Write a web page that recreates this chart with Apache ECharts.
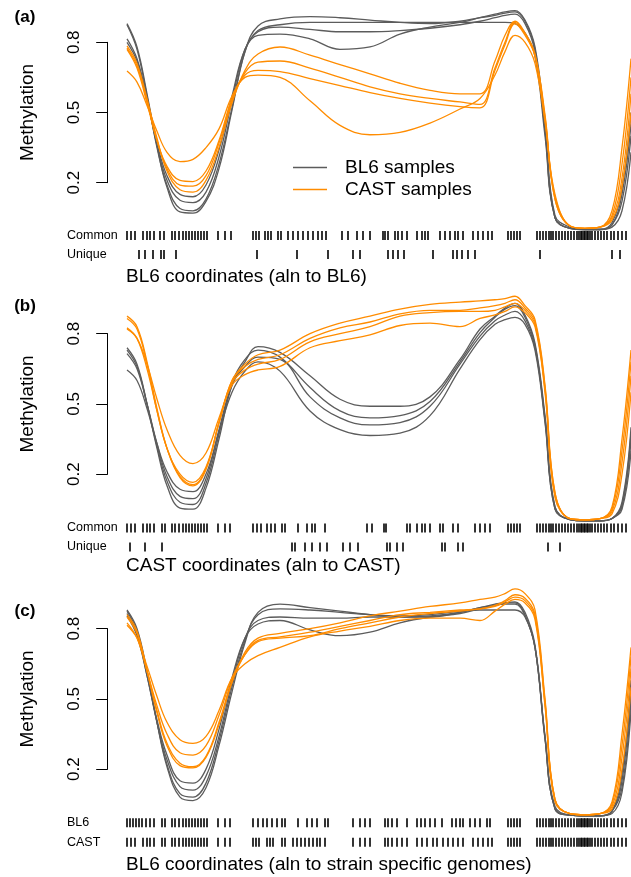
<!DOCTYPE html>
<html>
<head>
<meta charset="utf-8">
<title>Methylation profiles</title>
<script src="https://cdn.jsdelivr.net/npm/echarts@6/dist/echarts.min.js"></script>
<style>
  html, body { margin: 0; padding: 0; background: #fff; }
  #main { width: 631px; height: 877px; }
</style>
</head>
<body>
<div id="main"></div>
<script>
// Relative positions (scaled units) along the region where the smoothed
// methylation of every sample is evaluated.
const positions = [0, 20, 40, 60, 80, 106, 132, 158, 184, 210, 236, 262, 306, 366, 426, 486, 546, 606, 666, 706, 736, 756, 776, 796, 816, 836, 856, 886, 916, 946, 970, 990, 1008];

// (a) aligned to BL6
const bl6A = [
  [0.88, 0.78, 0.58, 0.36, 0.18, 0.075, 0.07, 0.12, 0.26, 0.51, 0.76, 0.87, 0.90, 0.91, 0.905, 0.895, 0.885, 0.88, 0.89, 0.905, 0.915, 0.925, 0.93, 0.89, 0.77, 0.42, 0.05, 0.005, 0.0, 0.0, 0.02, 0.15, 0.45],
  [0.875, 0.77, 0.57, 0.35, 0.19, 0.09, 0.08, 0.13, 0.28, 0.52, 0.76, 0.85, 0.875, 0.885, 0.885, 0.885, 0.885, 0.885, 0.885, 0.885, 0.885, 0.885, 0.88, 0.84, 0.74, 0.40, 0.05, 0.005, 0.0, 0.0, 0.02, 0.12, 0.40],
  [0.815, 0.73, 0.56, 0.36, 0.21, 0.125, 0.115, 0.16, 0.31, 0.55, 0.77, 0.845, 0.865, 0.855, 0.845, 0.845, 0.85, 0.86, 0.875, 0.89, 0.905, 0.915, 0.92, 0.88, 0.76, 0.43, 0.05, 0.005, 0.0, 0.0, 0.03, 0.18, 0.50],
  [0.80, 0.72, 0.56, 0.37, 0.23, 0.15, 0.14, 0.19, 0.34, 0.57, 0.77, 0.83, 0.835, 0.815, 0.77, 0.78, 0.835, 0.865, 0.885, 0.905, 0.92, 0.93, 0.935, 0.895, 0.78, 0.45, 0.06, 0.01, 0.0, 0.0, 0.01, 0.08, 0.33]
];
const castA = [
  [0.785, 0.71, 0.56, 0.39, 0.25, 0.17, 0.16, 0.21, 0.35, 0.54, 0.68, 0.75, 0.78, 0.745, 0.705, 0.665, 0.625, 0.595, 0.58, 0.58, 0.72, 0.83, 0.89, 0.84, 0.75, 0.49, 0.13, 0.015, 0.005, 0.01, 0.08, 0.35, 0.73],
  [0.775, 0.70, 0.55, 0.38, 0.26, 0.19, 0.185, 0.23, 0.37, 0.55, 0.67, 0.715, 0.72, 0.69, 0.65, 0.61, 0.58, 0.56, 0.545, 0.535, 0.69, 0.80, 0.885, 0.835, 0.745, 0.48, 0.13, 0.015, 0.005, 0.01, 0.06, 0.28, 0.65],
  [0.77, 0.69, 0.54, 0.38, 0.27, 0.21, 0.205, 0.25, 0.38, 0.56, 0.66, 0.68, 0.675, 0.645, 0.615, 0.585, 0.56, 0.54, 0.525, 0.52, 0.68, 0.79, 0.88, 0.83, 0.74, 0.47, 0.14, 0.015, 0.005, 0.01, 0.05, 0.22, 0.58],
  [0.677, 0.63, 0.53, 0.42, 0.33, 0.29, 0.30, 0.35, 0.43, 0.57, 0.65, 0.66, 0.65, 0.55, 0.445, 0.405, 0.415, 0.455, 0.515, 0.56, 0.66, 0.76, 0.83, 0.80, 0.71, 0.46, 0.15, 0.015, 0.005, 0.01, 0.04, 0.18, 0.50]
];

// (b) aligned to CAST
const bl6B = [
  [0.74, 0.67, 0.50, 0.31, 0.15, 0.055, 0.05, 0.14, 0.35, 0.58, 0.68, 0.745, 0.72, 0.62, 0.52, 0.49, 0.49, 0.53, 0.69, 0.82, 0.875, 0.91, 0.93, 0.88, 0.76, 0.45, 0.06, 0.005, 0.0, 0.0, 0.01, 0.08, 0.40],
  [0.73, 0.66, 0.50, 0.32, 0.17, 0.08, 0.07, 0.16, 0.37, 0.59, 0.69, 0.73, 0.70, 0.57, 0.47, 0.44, 0.45, 0.51, 0.68, 0.805, 0.87, 0.905, 0.92, 0.87, 0.75, 0.43, 0.05, 0.005, 0.0, 0.0, 0.01, 0.06, 0.35],
  [0.715, 0.65, 0.50, 0.33, 0.19, 0.105, 0.095, 0.18, 0.39, 0.58, 0.66, 0.70, 0.69, 0.53, 0.44, 0.41, 0.42, 0.49, 0.67, 0.79, 0.855, 0.88, 0.895, 0.855, 0.74, 0.44, 0.06, 0.005, 0.0, 0.0, 0.01, 0.07, 0.38],
  [0.645, 0.60, 0.48, 0.33, 0.21, 0.135, 0.125, 0.20, 0.38, 0.55, 0.64, 0.68, 0.64, 0.47, 0.39, 0.365, 0.375, 0.45, 0.65, 0.775, 0.84, 0.86, 0.87, 0.84, 0.73, 0.42, 0.05, 0.005, 0.0, 0.0, 0.01, 0.05, 0.30]
];
const castB = [
  [0.875, 0.83, 0.68, 0.48, 0.31, 0.185, 0.15, 0.22, 0.42, 0.60, 0.67, 0.71, 0.73, 0.80, 0.845, 0.875, 0.905, 0.925, 0.935, 0.94, 0.945, 0.95, 0.96, 0.92, 0.86, 0.58, 0.12, 0.01, 0.005, 0.01, 0.06, 0.35, 0.73],
  [0.865, 0.82, 0.67, 0.47, 0.31, 0.19, 0.155, 0.225, 0.42, 0.60, 0.66, 0.69, 0.71, 0.78, 0.825, 0.85, 0.885, 0.90, 0.90, 0.91, 0.92, 0.93, 0.945, 0.91, 0.85, 0.57, 0.12, 0.01, 0.005, 0.01, 0.05, 0.30, 0.68],
  [0.825, 0.78, 0.65, 0.47, 0.31, 0.20, 0.165, 0.23, 0.42, 0.59, 0.645, 0.67, 0.69, 0.765, 0.80, 0.83, 0.875, 0.89, 0.895, 0.895, 0.90, 0.915, 0.93, 0.90, 0.84, 0.56, 0.11, 0.01, 0.005, 0.01, 0.04, 0.25, 0.62],
  [0.82, 0.78, 0.67, 0.52, 0.39, 0.28, 0.245, 0.29, 0.44, 0.58, 0.625, 0.645, 0.66, 0.74, 0.77, 0.795, 0.835, 0.845, 0.83, 0.865, 0.88, 0.895, 0.915, 0.89, 0.83, 0.55, 0.10, 0.01, 0.005, 0.01, 0.03, 0.20, 0.55]
];

// (c) aligned to strain specific genomes
const bl6C = [
  [0.88, 0.80, 0.62, 0.40, 0.21, 0.08, 0.065, 0.12, 0.30, 0.53, 0.74, 0.87, 0.905, 0.89, 0.875, 0.86, 0.85, 0.85, 0.87, 0.89, 0.90, 0.91, 0.915, 0.87, 0.73, 0.34, 0.03, 0.003, 0.0, 0.0, 0.02, 0.15, 0.55],
  [0.875, 0.79, 0.61, 0.40, 0.22, 0.095, 0.08, 0.14, 0.32, 0.55, 0.75, 0.86, 0.885, 0.88, 0.87, 0.86, 0.855, 0.86, 0.875, 0.88, 0.88, 0.88, 0.88, 0.85, 0.72, 0.33, 0.03, 0.003, 0.0, 0.0, 0.02, 0.12, 0.50],
  [0.865, 0.78, 0.60, 0.40, 0.24, 0.125, 0.11, 0.17, 0.34, 0.57, 0.76, 0.835, 0.85, 0.845, 0.845, 0.85, 0.85, 0.855, 0.87, 0.89, 0.905, 0.91, 0.91, 0.86, 0.72, 0.33, 0.03, 0.003, 0.0, 0.0, 0.02, 0.18, 0.58],
  [0.855, 0.77, 0.60, 0.41, 0.26, 0.15, 0.14, 0.20, 0.37, 0.59, 0.76, 0.82, 0.835, 0.795, 0.77, 0.785, 0.825, 0.85, 0.865, 0.885, 0.90, 0.905, 0.905, 0.855, 0.72, 0.34, 0.04, 0.003, 0.0, 0.0, 0.01, 0.10, 0.45]
];
const castC = [
  [0.86, 0.79, 0.62, 0.44, 0.30, 0.215, 0.205, 0.25, 0.39, 0.57, 0.70, 0.76, 0.78, 0.80, 0.825, 0.855, 0.875, 0.895, 0.91, 0.925, 0.935, 0.95, 0.97, 0.95, 0.88, 0.50, 0.07, 0.01, 0.005, 0.01, 0.06, 0.35, 0.72],
  [0.85, 0.78, 0.62, 0.45, 0.31, 0.225, 0.21, 0.255, 0.40, 0.575, 0.69, 0.75, 0.765, 0.785, 0.81, 0.835, 0.86, 0.87, 0.88, 0.885, 0.90, 0.92, 0.945, 0.93, 0.86, 0.49, 0.07, 0.01, 0.005, 0.01, 0.05, 0.30, 0.68],
  [0.825, 0.76, 0.62, 0.47, 0.35, 0.27, 0.26, 0.30, 0.43, 0.59, 0.69, 0.745, 0.76, 0.77, 0.80, 0.825, 0.85, 0.865, 0.875, 0.885, 0.895, 0.915, 0.935, 0.92, 0.85, 0.48, 0.07, 0.01, 0.005, 0.01, 0.04, 0.25, 0.63],
  [0.815, 0.76, 0.64, 0.51, 0.40, 0.325, 0.31, 0.34, 0.45, 0.59, 0.65, 0.685, 0.72, 0.765, 0.79, 0.81, 0.835, 0.845, 0.845, 0.835, 0.875, 0.905, 0.925, 0.91, 0.84, 0.47, 0.06, 0.01, 0.005, 0.01, 0.03, 0.20, 0.55]
];

// CpG sites shared by every track: the island core and the promoter end
const coreSites = [112, 118, 124, 130, 136, 142, 148, 154, 160];
const firstExonSites = [762, 768, 774, 780, 786];
const promoterSites = [820, 826, 832, 838, 844, 848, 852, 858, 864, 870, 876, 882, 888, 894, 900, 904, 908, 910, 914, 916, 920, 922, 926, 930, 936, 942, 948, 954, 960, 968, 974, 982, 990, 998];

// CpG site tracks
const commonA = [0, 8, 16, 32, 40, 46, 54, 66, 74, 90, 96, 104, 182, 196, 208, 252, 258, 264, 276, 282, 288, 302, 308, 322, 332, 342, 352, 362, 372, 382, 390, 398, 430, 442, 460, 472, 486, 512, 516, 522, 536, 542, 550, 560, 580, 590, 596, 602, 626, 636, 646, 656, 662, 672, 692, 702, 712, 722, 730];
const uniqueA = [24, 36, 52, 68, 74, 98, 260, 340, 402, 452, 466, 522, 532, 542, 554, 612, 652, 660, 670, 682, 696, 826, 970, 986];
const commonB = [0, 8, 16, 32, 40, 46, 54, 70, 76, 90, 96, 104, 182, 196, 206, 252, 260, 268, 280, 288, 296, 310, 316, 342, 360, 370, 376, 396, 480, 490, 514, 518, 560, 566, 580, 590, 596, 606, 626, 632, 652, 662, 696, 706, 716, 726];
const uniqueB = [6, 36, 70, 330, 336, 356, 370, 386, 400, 432, 446, 462, 520, 526, 540, 552, 630, 636, 662, 672, 842, 866];
const bl6SitesC = [0, 6, 12, 18, 24, 30, 38, 46, 54, 70, 76, 90, 96, 104, 182, 196, 206, 252, 262, 272, 280, 290, 300, 310, 316, 342, 360, 370, 380, 396, 402, 452, 466, 476, 486, 516, 522, 530, 540, 560, 580, 588, 596, 606, 616, 630, 650, 658, 666, 672, 686, 696, 706, 720, 726];
const castSitesC = [0, 8, 16, 32, 40, 46, 54, 70, 76, 90, 96, 104, 182, 196, 206, 252, 258, 264, 280, 286, 292, 310, 316, 332, 340, 348, 356, 364, 372, 380, 386, 396, 452, 466, 476, 486, 516, 522, 530, 540, 550, 560, 580, 590, 600, 612, 620, 632, 642, 652, 662, 672, 692, 702, 712, 722, 730];

const FONT = '"Liberation Sans", Arial, Helvetica, sans-serif';
const GRAY = '#5c5c5c';
const ORANGE = '#ff8c00';
const X_MAX = 1008;

const withShared = sites => sites.concat(coreSites, firstExonSites, promoterSites);

const panels = [
  { tag: '(a)', plotTop: 42.3, rugTop: 226, rugH: 38, tagY: 17.5, titleY: 277,
    title: 'BL6 coordinates (aln to BL6)', bl6: bl6A, cast: castA,
    rows: ['Common', 'Unique'], rugs: [withShared(commonA), uniqueA] },
  { tag: '(b)', plotTop: 333.7, rugTop: 518.5, rugH: 38, tagY: 306, titleY: 566,
    title: 'CAST coordinates (aln to CAST)', bl6: bl6B, cast: castB,
    rows: ['Common', 'Unique'], rugs: [withShared(commonB), uniqueB] },
  { tag: '(c)', plotTop: 628.7, rugTop: 813, rugH: 39, tagY: 611, titleY: 865,
    title: 'BL6 coordinates (aln to strain specific genomes)', bl6: bl6C, cast: castC,
    rows: ['BL6', 'CAST'], rugs: [withShared(bl6SitesC), withShared(castSitesC)] }
];

const grid = [], xAxis = [], yAxis = [], series = [], graphic = [];
const ticks = [0.2, 0.5, 0.8];

panels.forEach((p, i) => {
  const gMain = 2 * i, gRug = 2 * i + 1;
  grid.push({ left: 127, right: 0, top: p.plotTop, height: 140.4 });
  grid.push({ left: 127, right: 0, top: p.rugTop, height: p.rugH });

  xAxis.push({ type: 'value', gridIndex: gMain, min: 0, max: X_MAX, show: false });
  xAxis.push({ type: 'value', gridIndex: gRug, min: 0, max: X_MAX, show: false });

  yAxis.push({
    type: 'value', gridIndex: gMain, min: 0.2, max: 0.8, offset: 19.3,
    axisLine: { show: true, onZero: false, lineStyle: { color: '#000', width: 1 } },
    axisTick: { show: true, length: 11.5, customValues: ticks, lineStyle: { color: '#000', width: 1 } },
    axisLabel: { customValues: ticks, rotate: 90, margin: 25, fontSize: 17, color: '#000',
                 fontFamily: FONT, formatter: v => v.toFixed(1) },
    splitLine: { show: false },
    name: 'Methylation', nameLocation: 'middle', nameRotate: 90, nameGap: 70,
    nameTextStyle: { fontSize: 19, color: '#000', fontFamily: FONT }
  });
  yAxis.push({
    type: 'category', gridIndex: gRug, data: p.rows, inverse: true,
    axisLine: { show: false }, axisTick: { show: false }, splitLine: { show: false },
    axisLabel: { align: 'left', margin: 60, fontSize: 12.5, color: '#000', fontFamily: FONT }
  });

  const addCurves = (curves, name, color) => {
    curves.forEach(vals => {
      series.push({
        type: 'line', name, xAxisIndex: gMain, yAxisIndex: gMain,
        data: positions.map((x, k) => [x, vals[k]]),
        smooth: 0.4, symbol: 'none', clip: false, silent: true,
        lineStyle: { color, width: 1.3 }, itemStyle: { color },
        emphasis: { disabled: true }
      });
    });
  };
  addCurves(p.bl6, 'BL6 samples', GRAY);
  addCurves(p.cast, 'CAST samples', ORANGE);

  p.rugs.forEach((sites, r) => {
    series.push({
      type: 'scatter', xAxisIndex: gRug, yAxisIndex: gRug,
      data: sites.map(s => [s, r]),
      symbol: 'rect', symbolSize: [1.6, 9], silent: true,
      itemStyle: { color: '#000', opacity: 1 }, emphasis: { disabled: true }
    });
  });

  graphic.push({
    type: 'text', silent: true,
    style: { x: 25, y: p.tagY, text: p.tag, fill: '#000', font: 'bold 17px ' + FONT,
             align: 'center', verticalAlign: 'middle', textAlign: 'center', textVerticalAlign: 'middle' }
  });
  graphic.push({
    type: 'text', silent: true,
    style: { x: 126, y: p.titleY, text: p.title, fill: '#000', font: '19px ' + FONT,
             align: 'left', verticalAlign: 'middle', textAlign: 'left', textVerticalAlign: 'middle' }
  });
});

const chart = echarts.init(document.getElementById('main'));
chart.setOption({
  backgroundColor: '#fff',
  animation: false,
  grid, xAxis, yAxis, series, graphic,
  legend: {
    data: [{ name: 'BL6 samples', icon: 'rect' }, { name: 'CAST samples', icon: 'rect' }],
    orient: 'vertical', left: 293, top: 158, padding: 0,
    itemWidth: 34, itemHeight: 1.4, itemGap: 3,
    textStyle: { fontSize: 19, color: '#000', fontFamily: FONT, padding: [0, 0, 0, 13] }
  }
});
</script>
</body>
</html>
